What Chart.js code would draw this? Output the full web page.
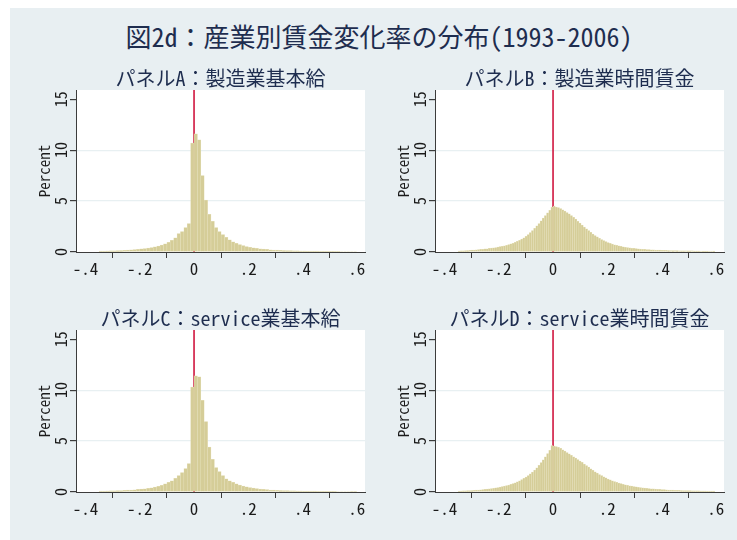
<!DOCTYPE html>
<html>
<head>
<meta charset="utf-8">
<script src="https://cdn.jsdelivr.net/npm/chart.js@4/dist/chart.umd.min.js"></script>
<style>
  html, body { margin: 0; padding: 0; background: #ffffff; width: 737px; height: 540px; overflow: hidden; }
  #frame { position: absolute; left: 10px; top: 8px; width: 727px; height: 532px; background: #e8eff2; }
  #mainTitle { position: absolute; left: 10px; top: 23px; width: 738px; text-align: center;
    font: 26px "Noto Sans Mono CJK JP", "Noto Sans CJK JP", sans-serif; line-height: 26px; color: #1e2d4f; white-space: nowrap; }
  canvas { position: absolute; }
</style>
</head>
<body>
<div id="frame"></div>
<div id="mainTitle">図2d：産業別賃金変化率の分布(1993-2006)</div>
<canvas id="pA" width="355" height="223" style="left:20px;top:64px"></canvas>
<canvas id="pB" width="355" height="223" style="left:379px;top:64px"></canvas>
<canvas id="pC" width="355" height="223" style="left:20px;top:304px"></canvas>
<canvas id="pD" width="355" height="223" style="left:379px;top:304px"></canvas>
<script>
// Panel titles
const panelTitles = ['パネルA：製造業基本給', 'パネルB：製造業時間賃金', 'パネルC：service業基本給', 'パネルD：service業時間賃金'];

// Bin layout of the histograms (lower edge of first bin, bin width)
const binStartBasic = -0.35;
const binWidthBasic = 0.0125;
const binStartHourly = -0.35;
const binWidthHourly = 0.35 / 44;

// Percent of observations per bin
const pctMfgBasic = [
  0.08, 0.09, 0.10, 0.11, 0.12, 0.13, 0.15, 0.17, 0.19, 0.21,
  0.24, 0.27, 0.30, 0.33, 0.38, 0.44, 0.50, 0.58, 0.68, 0.80,
  0.95, 1.15, 1.40, 1.80, 2.00, 2.40, 2.80, 10.7,
  11.6, 11.0, 7.5, 5.1, 3.7, 3.0, 2.4, 2.0, 1.7, 1.45,
  1.2, 1.0, 0.85, 0.72, 0.62, 0.52, 0.45, 0.40, 0.35, 0.31,
  0.28, 0.25, 0.22, 0.20, 0.18, 0.16, 0.15, 0.14, 0.13, 0.12,
  0.11, 0.10, 0.10, 0.09, 0.09, 0.08, 0.08, 0.07, 0.07, 0.07,
  0.06, 0.06, 0.06, 0.05, 0.05, 0.05, 0.05, 0.05
];
const pctMfgHourly = [
  0.10, 0.11, 0.12, 0.13, 0.15, 0.16, 0.18, 0.19, 0.21, 0.23,
  0.25, 0.27, 0.30, 0.32, 0.35, 0.38, 0.41, 0.44, 0.48, 0.52,
  0.56, 0.61, 0.66, 0.72, 0.79, 0.86, 0.95, 1.04, 1.15, 1.27,
  1.40, 1.55, 1.72, 1.90, 2.10, 2.32, 2.56, 2.80, 3.05, 3.32,
  3.58, 3.85, 4.10, 4.38,
  4.50, 4.42, 4.35, 4.25, 4.15, 4.02, 3.88, 3.74, 3.58, 3.40,
  3.22, 3.02, 2.83, 2.64, 2.45, 2.27, 2.10, 1.93, 1.77, 1.62,
  1.48, 1.35, 1.23, 1.12, 1.02, 0.93, 0.85, 0.78, 0.71, 0.65,
  0.60, 0.55, 0.51, 0.47, 0.43, 0.40, 0.37, 0.35, 0.33, 0.31,
  0.29, 0.27, 0.26, 0.24, 0.23, 0.22, 0.21, 0.20, 0.19, 0.18,
  0.17, 0.165, 0.16, 0.15, 0.145, 0.14, 0.135, 0.13, 0.125, 0.12,
  0.12, 0.115, 0.11, 0.11, 0.105, 0.10, 0.10, 0.10, 0.095, 0.09,
  0.09, 0.09, 0.085, 0.085, 0.08
];
const pctSvcBasic = [
  0.08, 0.09, 0.10, 0.11, 0.12, 0.13, 0.14, 0.16, 0.18, 0.20,
  0.22, 0.25, 0.28, 0.32, 0.37, 0.42, 0.48, 0.55, 0.65, 0.80,
  0.95, 1.10, 1.35, 1.60, 1.90, 2.30, 2.80, 10.3,
  11.4, 11.3, 9.0, 6.9, 4.4, 3.2, 2.4, 2.0, 1.6, 1.3,
  1.1, 0.95, 0.80, 0.68, 0.58, 0.50, 0.43, 0.38, 0.33, 0.29,
  0.26, 0.23, 0.20, 0.18, 0.16, 0.15, 0.14, 0.13, 0.12, 0.11,
  0.10, 0.10, 0.09, 0.09, 0.08, 0.08, 0.07, 0.07, 0.07, 0.06,
  0.06, 0.06, 0.05, 0.05, 0.05, 0.05, 0.04, 0.04
];
const pctSvcHourly = [
  0.09, 0.10, 0.11, 0.12, 0.13, 0.14, 0.15, 0.17, 0.18, 0.20,
  0.22, 0.24, 0.26, 0.28, 0.31, 0.34, 0.37, 0.40, 0.44, 0.48,
  0.53, 0.58, 0.63, 0.69, 0.76, 0.83, 0.91, 1.00, 1.10, 1.21,
  1.33, 1.47, 1.62, 1.78, 1.96, 2.16, 2.38, 2.62, 2.88, 3.15,
  3.45, 3.78, 4.10, 4.55,
  4.50, 4.45, 4.38, 4.28, 4.15, 4.02, 3.88, 3.74, 3.60, 3.46,
  3.32, 3.18, 3.04, 2.90, 2.75, 2.60, 2.44, 2.28, 2.13, 1.99,
  1.85, 1.72, 1.60, 1.49, 1.38, 1.28, 1.19, 1.10, 1.02, 0.95,
  0.88, 0.82, 0.76, 0.71, 0.66, 0.61, 0.57, 0.53, 0.50, 0.47,
  0.44, 0.41, 0.38, 0.36, 0.34, 0.32, 0.30, 0.28, 0.27, 0.25,
  0.24, 0.23, 0.21, 0.20, 0.19, 0.18, 0.17, 0.16, 0.16, 0.15,
  0.14, 0.14, 0.13, 0.13, 0.12, 0.12, 0.11, 0.11, 0.10, 0.10,
  0.10, 0.09, 0.09, 0.09, 0.08
];

// Axis ticks
const xTickValues = [-0.4, -0.2, 0, 0.2, 0.4, 0.6];
const xTickLabels = ['-.4', '-.2', '0', '.2', '.4', '.6'];
const yTickValues = [0, 5, 10, 15];
const yTickLabels = ['0', '5', '10', '15'];
const yGridValues = [5, 10];
const refLineX = 0;

const monoFamily = '"Noto Sans Mono CJK JP", "Noto Sans CJK JP", sans-serif';
const axisColor = '#3c3c3c';

// White plot region behind the bars
const plotBackground = {
  id: 'plotBackground',
  beforeDraw(chart) {
    const { ctx, chartArea: a } = chart;
    ctx.save();
    ctx.fillStyle = '#ffffff';
    ctx.fillRect(a.left, a.top, a.right - a.left, a.bottom - a.top);
    ctx.restore();
  }
};

// Vertical reference line at zero change, drawn beneath the bars
const zeroLine = {
  id: 'zeroLine',
  beforeDatasetsDraw(chart) {
    const { ctx, chartArea: a, scales: { x } } = chart;
    const px = x.getPixelForValue(refLineX);
    ctx.save();
    ctx.strokeStyle = '#d0163f';
    ctx.lineWidth = 1.6;
    ctx.beginPath();
    ctx.moveTo(px, a.top);
    ctx.lineTo(px, a.bottom);
    ctx.stroke();
    ctx.restore();
  }
};

function makePanel(id, title, pct, binStart, binWidth) {
  const points = pct.map((v, i) => ({ x: binStart + (i + 0.5) * binWidth, y: v }));
  return new Chart(document.getElementById(id), {
    type: 'bar',
    data: {
      datasets: [{
        data: points,
        backgroundColor: '#d5cd98',
        borderColor: '#e6e1bd',
        borderWidth: 0.5,
        barPercentage: 1,
        categoryPercentage: 1
      }]
    },
    options: {
      responsive: false,
      animation: false,
      layout: { padding: { left: 0, right: 10, top: 0, bottom: 0 } },
      plugins: {
        legend: { display: false },
        tooltip: { enabled: false },
        title: {
          display: true,
          text: title,
          fullSize: false,
          color: '#1e2d4f',
          font: { family: monoFamily, size: 20, weight: 'normal', lineHeight: 1.2 },
          padding: { top: 2, bottom: 0 }
        }
      },
      scales: {
        x: {
          type: 'linear',
          min: -0.435,
          max: 0.63,
          offset: false,
          afterBuildTicks: s => { s.ticks = xTickValues.map(v => ({ value: v })); },
          afterFit: s => { s.height = 35; },
          ticks: {
            callback: (v, i) => xTickLabels[i],
            autoSkip: false,
            maxRotation: 0,
            padding: 0,
            color: '#1a1a1a',
            font: { family: monoFamily, size: 17 }
          },
          grid: { drawOnChartArea: false, tickLength: 6, tickColor: axisColor },
          border: { color: axisColor, width: 1 }
        },
        y: {
          min: 0,
          max: 15.9,
          afterBuildTicks: s => { s.ticks = yTickValues.map(v => ({ value: v })); },
          afterFit: s => { s.width = 56; },
          ticks: {
            callback: (v, i) => yTickLabels[i],
            minRotation: 90,
            maxRotation: 90,
            crossAlign: 'center',
            padding: 1,
            color: '#1a1a1a',
            font: { family: monoFamily, size: 16 }
          },
          grid: {
            color: c => (c.tick && yGridValues.includes(c.tick.value)) ? '#e8f0f2' : 'rgba(0,0,0,0)',
            lineWidth: 1.2,
            tickLength: 6,
            tickColor: axisColor
          },
          border: { color: axisColor, width: 1 },
          title: {
            display: true,
            text: 'Percent',
            color: '#1a1a1a',
            font: { family: monoFamily, size: 15, lineHeight: 1.2 },
            padding: { top: 15, bottom: 0 }
          }
        }
      }
    },
    plugins: [plotBackground, zeroLine]
  });
}

makePanel('pA', panelTitles[0], pctMfgBasic, binStartBasic, binWidthBasic);
makePanel('pB', panelTitles[1], pctMfgHourly, binStartHourly, binWidthHourly);
makePanel('pC', panelTitles[2], pctSvcBasic, binStartBasic, binWidthBasic);
makePanel('pD', panelTitles[3], pctSvcHourly, binStartHourly, binWidthHourly);
</script>
</body>
</html>
